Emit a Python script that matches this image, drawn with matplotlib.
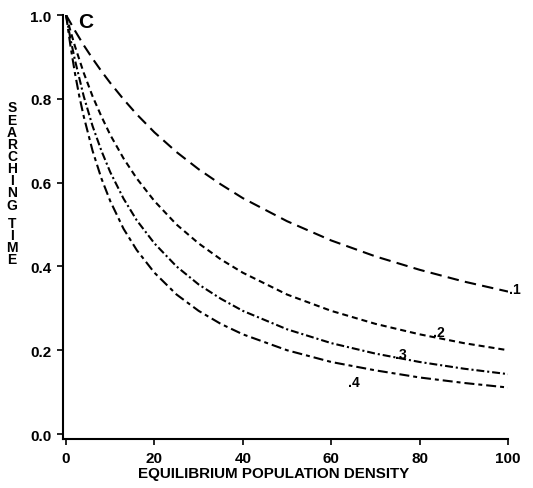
import matplotlib

matplotlib.use("Agg")
import matplotlib.pyplot as plt

plt.rcParams["font.family"] = ["Liberation Sans", "DejaVu Sans"]
plt.rcParams["font.weight"] = "bold"

# curve values (x = equilibrium population density)
x1 = [0, 2, 4, 6, 8, 10, 13, 16, 20, 25, 30, 35, 40, 50, 60, 70, 80, 90, 100]
y1 = [1.0, 0.963, 0.928, 0.896, 0.866, 0.838, 0.799, 0.763, 0.720, 0.673, 0.632, 0.596,
      0.563, 0.508, 0.462, 0.424, 0.392, 0.364, 0.340]

x2 = [0, 1, 2, 4, 6, 8, 10, 13, 16, 20, 25, 30, 35, 40, 50, 60, 70, 80, 90, 100]
y2 = [1.0, 0.962, 0.926, 0.862, 0.806, 0.758, 0.714, 0.658, 0.610, 0.556, 0.500, 0.455,
      0.417, 0.385, 0.333, 0.294, 0.263, 0.238, 0.217, 0.200]

x3 = [0, 1, 2, 4, 6, 8, 10, 13, 16, 20, 25, 30, 35, 40, 50, 60, 70, 80, 90, 100]
y3 = [1.0, 0.943, 0.893, 0.806, 0.735, 0.676, 0.625, 0.562, 0.510, 0.455, 0.400, 0.357,
      0.323, 0.294, 0.250, 0.217, 0.192, 0.172, 0.156, 0.143]

x4 = [0, 1, 2, 3, 4, 6, 8, 10, 13, 16, 20, 25, 30, 35, 40, 50, 60, 70, 80, 90, 100]
y4 = [1.0, 0.926, 0.862, 0.806, 0.758, 0.676, 0.610, 0.556, 0.490, 0.439, 0.385, 0.333,
      0.294, 0.263, 0.238, 0.200, 0.172, 0.152, 0.135, 0.122, 0.111]

labels = [".1", ".2", ".3", ".4"]
label_x = [101.5, 84.4, 75.8, 65.2]
label_y = [0.347, 0.244, 0.19, 0.124]

xticks = [0, 20, 40, 60, 80, 100]
yticks = [0.0, 0.2, 0.4, 0.6, 0.8, 1.0]

fig = plt.figure(figsize=(5.33, 4.89), dpi=100)
ax = fig.add_axes([0.1173, 0.0992, 0.8358, 0.868])

lw = 1.5
ax.plot(x1, y1, color="black", lw=lw, linestyle=(0, (5.5, 3)))
ax.plot(x2, y2, color="black", lw=lw, linestyle=(0, (2.9, 1.9)))
ax.plot(x3, y3, color="black", lw=lw, linestyle=(0, (3.8, 1.4, 1.0, 1.4)))
ax.plot(x4, y4, color="black", lw=lw, linestyle=(0, (4.8, 1.9, 1.9, 1.9)))

for t, lx, ly in zip(labels, label_x, label_y):
    ax.text(lx, ly, t, fontsize=10, fontweight="bold", ha="center", va="center")

ax.text(4.5, 0.985, "C", fontsize=15, fontweight="bold", ha="center", va="center")

ax.set_xlim(-0.8, 100)
ax.set_ylim(-0.013, 1.0)
ax.set_xticks(xticks)
ax.set_yticks(yticks)
ax.set_yticklabels([f"{v:.1f}" for v in yticks])
ax.tick_params(direction="out", length=4, width=1.2, labelsize=11, pad=4)
for lab in ax.get_xticklabels() + ax.get_yticklabels():
    lab.set_fontweight("bold")

for side in ["top", "right"]:
    ax.spines[side].set_visible(False)
for side in ["left", "bottom"]:
    ax.spines[side].set_linewidth(1.5)

ax.set_xlabel("EQUILIBRIUM POPULATION DENSITY", fontsize=10.9, fontweight="bold")
ax.xaxis.set_label_coords(0.475, -0.063)

# vertical stacked y label
fig.text(12 / 533, 1 - 157 / 489, "\n".join("SEARCHING"), fontsize=10, fontweight="bold",
         ha="center", va="center", linespacing=0.83)
fig.text(12 / 533, 1 - 242 / 489, "\n".join("TIME"), fontsize=10, fontweight="bold",
         ha="center", va="center", linespacing=0.83)

fig.savefig("out.png", dpi=100)
